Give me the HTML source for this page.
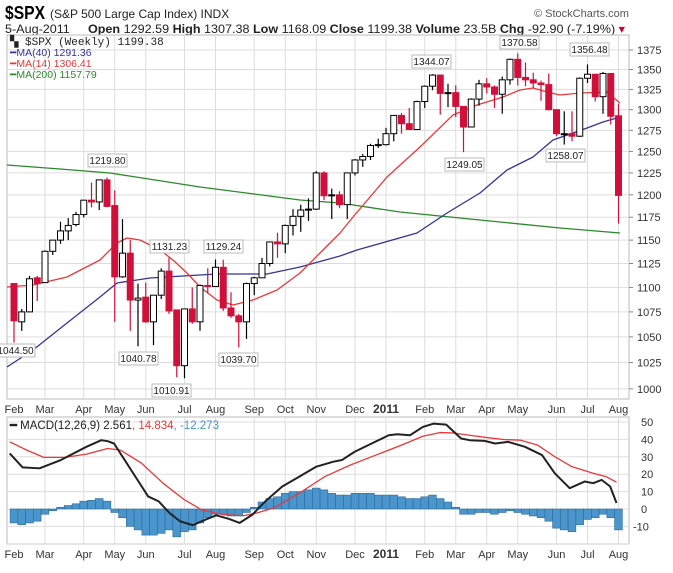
<!DOCTYPE html>
<html><head><meta charset="utf-8"><style>
body{margin:0;background:#fff;width:673px;height:568px;overflow:hidden;font-family:"Liberation Sans",sans-serif}
</style></head><body>
<svg id="s" width="673" height="568" xmlns="http://www.w3.org/2000/svg" font-family="Liberation Sans, sans-serif">
<text x="5" y="19" font-size="18" font-weight="bold" fill="#000" textLength="40" lengthAdjust="spacingAndGlyphs">$SPX</text>
<text x="50" y="18" font-size="12" fill="#222">(S&amp;P 500 Large Cap Index) INDX</text>
<text x="534" y="17" font-size="11" fill="#555">© StockCharts.com</text>
<text x="5" y="33" font-size="12" fill="#222" textLength="620" lengthAdjust="spacingAndGlyphs">5-Aug-2011 <tspan dx="14" font-weight="bold">Open</tspan> 1292.59 <tspan font-weight="bold">High</tspan> 1307.38 <tspan font-weight="bold">Low</tspan> 1168.09 <tspan font-weight="bold">Close</tspan> 1199.38 <tspan font-weight="bold">Volume</tspan> 23.5B <tspan font-weight="bold">Chg</tspan> -92.90 (-7.19%) <tspan fill="#c03">▾</tspan></text>
<g id="g"></g>
</svg>
<script>
var NS="http://www.w3.org/2000/svg",g=document.getElementById('g');
function el(t,a,txt){var e=document.createElementNS(NS,t);for(var k in a)e.setAttribute(k,a[k]);if(txt!=null)e.textContent=txt;g.appendChild(e);return e;}
function Y(p){return 50+1064*Math.log(1375/p);}
function X(i){return 14+i*7.75;}
var L=7,R=629,T=35,B=399,MT=417,MB=544;
var gi=[4,9,13,17,22,26,31,35,39,44,48,53,57,61,65,70,74,78];
var ml=["Mar","Apr","May","Jun","Jul","Aug","Sep","Oct","Nov","Dec","2011","Feb","Mar","Apr","May","Jun","Jul","Aug"];
el('rect',{x:L,y:T,width:R-L,height:B-T,fill:'#fff',stroke:'#bbb'});
el('rect',{x:L,y:MT,width:R-L,height:MB-MT,fill:'#fff',stroke:'#bbb'});
for(var p=1000;p<=1375;p+=25){var y=Y(p);el('line',{x1:L,y1:y,x2:R,y2:y,stroke:'#ddd'});el('line',{x1:R,y1:y,x2:R+4,y2:y,stroke:'#888'});el('text',{x:637,y:y+4,'font-size':11,fill:'#333'},p);}
function MY(v){return 509-v*1.74;}
for(var v=-10;v<=50;v+=10){var y=MY(v);el('line',{x1:L,y1:y,x2:R,y2:y,stroke:'#ddd'});el('text',{x:v<0?633:641,y:y+4,'font-size':11,fill:'#333'},v);}
el('line',{x1:L,y1:MY(-20),x2:R,y2:MY(-20),stroke:'#ddd'});
gi.forEach(function(i,k){var x=X(i);el('line',{x1:x,y1:T,x2:x,y2:B,stroke:'#ddd'});el('line',{x1:x,y1:MT,x2:x,y2:MB,stroke:'#ddd'});});
var labs=[[0,"Feb"]];gi.forEach(function(i,k){labs.push([i,ml[k]]);});
labs.forEach(function(l){var b=l[1]=="2011";[409,554].forEach(function(yy){el('text',{x:X(l[0]),y:yy+4,'font-size':b?12:11,'font-weight':b?'bold':'normal','text-anchor':'middle',fill:'#333'},l[1]);});});
var d=[[1104,1104,1044.5,1066],[1065,1078,1056,1075],[1075,1112,1075,1109],[1110,1112,1086,1104],[1105,1139,1105,1138],[1138,1150,1134,1150],[1150,1170,1146,1160],[1160,1174,1150,1166],[1167,1181,1165,1178],[1178,1194,1175,1194],[1194,1214,1186,1192],[1192,1217,1183,1217],[1217,1219.8,1186,1187],[1188,1205,1065,1111],[1111,1173,1110,1136],[1136,1150,1056,1087],[1087,1104,1040.78,1089],[1090,1105,1064,1065],[1065,1092,1042,1092],[1092,1120,1088,1117],[1117,1131.23,1073,1076],[1077,1077,1010.91,1022],[1022,1078,1010,1078],[1078,1100,1063,1065],[1065,1103,1056,1102],[1102,1120,1094,1101],[1101,1129.24,1101,1121],[1121,1129,1076,1079],[1079,1095,1069,1071],[1071,1073,1039.7,1065],[1065,1105,1048,1104],[1104,1111,1092,1110],[1110,1131,1110,1125],[1125,1148,1122,1148],[1148,1158,1131,1146],[1146,1167,1136,1166],[1166,1184,1155,1176],[1176,1189,1159,1183],[1183,1196,1171,1184],[1184,1227,1183,1225],[1225,1227,1194,1199],[1199,1207,1173,1200],[1200,1204,1185,1189],[1189,1225,1173,1225],[1225,1241,1222,1240],[1240,1247,1232,1244],[1244,1259,1240,1257],[1257,1265,1254,1258],[1258,1278,1257,1271],[1271,1293,1262,1293],[1293,1296,1271,1283],[1283,1302,1276,1276],[1276,1311,1276,1310],[1310,1330,1302,1329],[1329,1344.07,1324,1343],[1343,1343,1294,1320],[1320,1332,1303,1321],[1321,1330,1291,1304],[1304,1304,1249.05,1279],[1279,1314,1279,1313],[1313,1337,1305,1332],[1332,1339,1320,1328],[1328,1330,1302,1319],[1319,1341,1295,1337],[1337,1364,1331,1363],[1363,1370.58,1330,1340],[1340,1359,1329,1337],[1337,1346,1327,1333],[1333,1336,1311,1331],[1331,1345,1299,1300],[1300,1300,1268,1271],[1271,1298,1258.07,1271],[1271,1298,1262,1268],[1268,1340,1267,1339],[1339,1356.48,1333,1344],[1344,1344,1310,1316],[1316,1347,1295,1345],[1345,1345,1282,1292],[1292.59,1307.38,1168.09,1199.38]];
function pl(pts,c,w){el('polyline',{points:pts.map(function(p){return p[0]+','+p[1]}).join(' '),fill:'none',stroke:c,'stroke-width':w||1.3,'stroke-linejoin':'round'});}
pl([[7,165],[60,169],[110,173],[200,187],[300,200],[340,203],[400,212],[500,222],[560,228],[620,233]],'#2a8a2a');
pl([[7,367],[33,350],[67,323],[100,297],[117,283],[150,278],[183,276],[217,274],[267,274],[300,267],[340,256],[357,250],[417,233],[447,213],[480,193],[507,170],[533,157],[553,140],[573,133],[587,128],[603,122],[620,117]],'#33339a');
pl([[7,287],[33,285],[67,277],[100,260],[117,243],[127,238],[140,240],[160,250],[173,260],[187,273],[200,287],[217,300],[233,305],[253,300],[277,290],[300,273],[323,250],[340,233],[353,217],[387,177],[420,147],[453,115],[477,105],[503,97],[520,90],[533,88],[547,92],[560,95],[580,93],[607,92],[620,103]],'#e8393a');
d.forEach(function(c,i){var x=X(i),up=c[3]>=c[0],col=up?'#000':'#d0103a';
el('line',{x1:x,y1:Y(c[1]),x2:x,y2:Y(c[2]),stroke:col,'stroke-width':1.2});
var t=Y(Math.max(c[0],c[3])),b=Y(Math.min(c[0],c[3]));if(b-t<1)b=t+1;
el('rect',{x:x-3,y:t,width:6,height:b-t,fill:up?'#fff':'#d0103a',stroke:col,'stroke-width':1});});
[["1044.50",-4,344],["1219.80",88,154],["1131.23",150,240],["1129.24",204,240],["1040.78",119,352],["1010.91",152,384],["1039.70",219,353],["1344.07",412,55],["1370.58",500,36],["1249.05",445,158],["1258.07",546,149],["1356.48",570,43]].forEach(function(l){
el('rect',{x:l[1],y:l[2],width:39,height:13,fill:'#fff',stroke:'#bbb'});el('text',{x:l[1]+19.5,y:l[2]+10,'font-size':10,'text-anchor':'middle',fill:'#222'},l[0]);});
el('text',{x:10,y:45,'font-size':11,'font-family':'Liberation Mono, monospace',fill:'#222'},'▚ $SPX (Weekly) 1199.38');
el('text',{x:10,y:56,'font-size':10.5,fill:'#33339a'},'━MA(40) 1291.36');
el('text',{x:10,y:67,'font-size':10.5,fill:'#e8393a'},'━MA(14) 1306.41');
el('text',{x:10,y:78,'font-size':10.5,fill:'#2a8a2a'},'━MA(200) 1157.79');
var h=[-8,-9,-8,-7,-3,-1,1,2,3,4.5,5,6,4.5,-2,-5,-10,-12,-15,-15,-14,-12,-16,-13,-12,-8,-5,-3,-3,-4,-4,-2,1,4,6,7,9,10,10,11,12,11,9,8,8,9,9,9,8,8,8,7,6,6,7,8,6,4,1,-3,-3,-2,-2,-3,-2,-1,-2,-3,-4,-5,-7,-11,-12,-13,-9,-6,-5,-3,-5,-12];
h.forEach(function(v,i){var y0=MY(0),y1=MY(v);el('rect',{x:X(i)-3.9,y:Math.min(y0,y1),width:7.75,height:Math.abs(y1-y0),fill:'#4a95cc',stroke:'#2a6a98','stroke-width':0.6});});
function zc(a){return a.map(function(p){return [14+(p[0]-30)/18.2*7.75,509+(p[1]-388)*0.3308];});}
pl(zc([[20,185],[60,210],[100,232],[150,232],[200,222],[250,205],[280,210],[330,250],[380,310],[430,360],[470,390],[520,405],[570,408],[600,400],[640,385],[700,340],[760,290],[820,255],[880,225],[940,195],[990,168],[1030,157],[1060,158],[1100,165],[1140,172],[1180,178],[1220,180],[1260,195],[1300,230],[1340,260],[1390,280],[1420,290],[1445,307]]),'#e8393a',1.3);
pl(zc([[20,220],[50,262],[90,265],[140,240],[200,200],[235,180],[250,183],[265,190],[290,240],[320,300],[345,350],[370,365],[395,400],[420,425],[450,437],[480,420],[505,407],[535,418],[560,430],[590,405],[620,365],[660,320],[700,290],[740,260],[780,245],[800,240],[830,215],[870,190],[910,165],[930,162],[960,165],[990,140],[1015,130],[1045,133],[1080,175],[1100,180],[1135,182],[1160,190],[1190,185],[1230,200],[1270,225],[1300,280],[1335,325],[1370,305],[1390,310],[1410,300],[1430,320],[1445,370]]),'#222',2);
var t=el('text',{x:10,y:429,'font-size':11.5,fill:'#222'});t.innerHTML='<tspan font-weight="bold">━</tspan> MACD(12,26,9) 2.561<tspan fill="#e8393a">, 14.834</tspan><tspan fill="#4a95cc">, -12.273</tspan>';
</script>
</body></html>
